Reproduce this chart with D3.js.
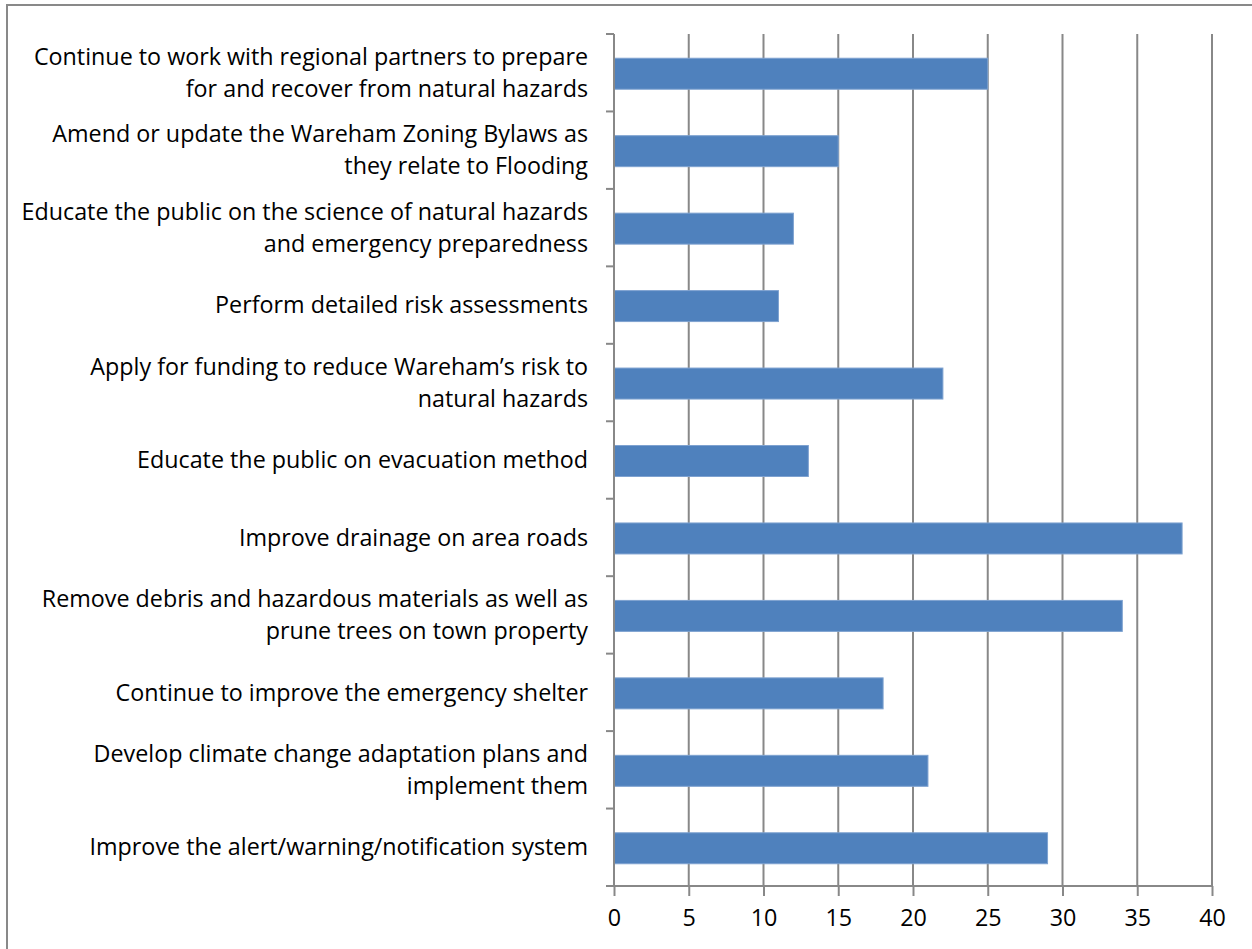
<!DOCTYPE html>
<html><head><meta charset="utf-8">
<script src="https://cdn.jsdelivr.net/npm/d3@7"></script>
<style>body{margin:0;background:#fff}svg{display:block}text{font-family:"Open Sans",sans-serif}</style>
</head><body>
<script>
const categories = [
  ["Continue to work with regional partners to prepare","for and recover from natural hazards"],
  ["Amend or update the Wareham Zoning Bylaws as","they relate to Flooding"],
  ["Educate the public on the science of natural hazards","and emergency preparedness"],
  ["Perform detailed risk assessments"],
  ["Apply for funding to reduce Wareham\u2019s risk to","natural hazards"],
  ["Educate the public on evacuation method"],
  ["Improve drainage on area roads"],
  ["Remove debris and hazardous materials as well as","prune trees on town property"],
  ["Continue to improve the emergency shelter"],
  ["Develop climate change adaptation plans and","implement them"],
  ["Improve the alert/warning/notification system"]
];
const values = [25, 15, 12, 11, 22, 13, 38, 34, 18, 21, 29];
const xTicks = [0,5,10,15,20,25,30,35,40];

const W = 1252, H = 949;
const FONT = "'Open Sans', sans-serif", FS = 23.3;
const svg = d3.select("body").append("svg").attr("width", W).attr("height", H);
svg.append("rect").attr("x",7).attr("y",5).attr("width",1260).attr("height",960)
  .attr("fill","#fff").attr("stroke","#898989").attr("stroke-width",2);

const pLeft = 614, pRight = 1212, pTop = 34, pBottom = 886;
const x = d3.scaleLinear().domain([0,40]).range([pLeft,pRight]);
const y = d3.scaleBand().domain(d3.range(categories.length)).range([pTop,pBottom]).paddingInner(0.6).paddingOuter(0.3);
const yFull = d3.scaleBand().domain(d3.range(categories.length)).range([pTop,pBottom]);

// gridlines
svg.append("g").selectAll("line").data(xTicks.slice(1)).join("line")
  .attr("x1",d=>x(d)).attr("x2",d=>x(d)).attr("y1",pTop).attr("y2",pBottom)
  .attr("stroke","#888").attr("stroke-width",2);

// bars
svg.append("g").selectAll("rect").data(values).join("rect")
  .attr("x", x(0)).attr("y",(d,i)=>y(i)+1).attr("height", y.bandwidth())
  .attr("width", d=>x(d)-x(0))
  .attr("fill","#4F81BD").attr("stroke","#7EA2D0").attr("stroke-width",1);

// y axis
svg.append("line").attr("x1",pLeft).attr("x2",pLeft).attr("y1",pTop).attr("y2",pBottom)
  .attr("stroke","#888").attr("stroke-width",2);
const yTickPos = d3.range(categories.length+1).map(i=> i<categories.length ? yFull(i) : pBottom);
svg.append("g").selectAll("line").data(yTickPos).join("line")
  .attr("x1",pLeft-8).attr("x2",pLeft).attr("y1",d=>d).attr("y2",d=>d)
  .attr("stroke","#888").attr("stroke-width",2);

// x axis
const xAxis = d3.axisBottom(x).tickValues(xTicks).tickSizeInner(10).tickSizeOuter(0).tickPadding(13);
const gx = svg.append("g").attr("transform",`translate(0,${pBottom})`).call(xAxis);
gx.select(".domain").attr("stroke","#888").attr("stroke-width",2).attr("d",`M${pLeft-8},0H${pRight}`);
gx.selectAll(".tick line").attr("stroke","#888").attr("stroke-width",2);
gx.selectAll(".tick text").attr("font-size",FS).attr("fill","#000").attr("font-family",FONT);

// category labels
const lab = svg.append("g").selectAll("text").data(categories).join("text")
  .attr("text-anchor","end").attr("font-size",FS).attr("fill","#000").attr("font-family",FONT)
  .attr("transform",(d,i)=>`translate(588,${yFull(i)+yFull.bandwidth()/2})`);
lab.each(function(d){
  const t = d3.select(this);
  const n = d.length;
  d.forEach((line,k)=>{
    t.append("tspan").attr("x",0).attr("y",(k-(n-1)/2)*32).attr("dy","0.35em").text(line);
  });
});
</script>
</body></html>
